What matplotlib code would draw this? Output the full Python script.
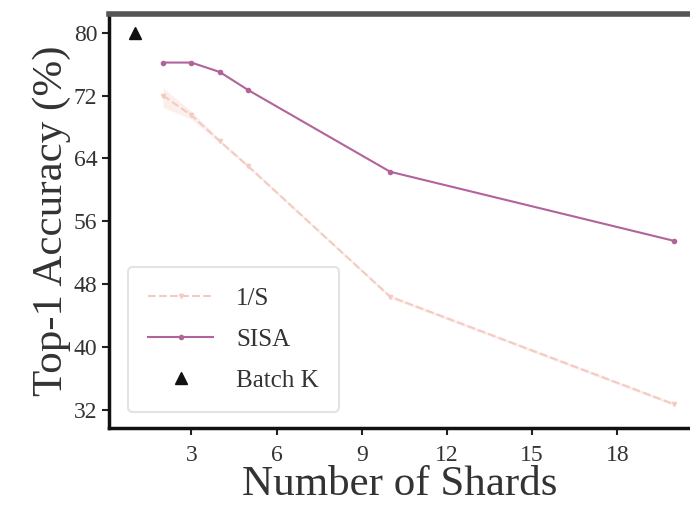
import matplotlib
matplotlib.use('Agg')
import matplotlib.pyplot as plt

# data
shards = [2, 3, 4, 5, 10, 20]
sisa = [76.2, 76.2, 75.0, 72.7, 62.3, 53.5]
one_over_s = [72.0, 69.5, 66.2, 63.0, 46.4, 32.7]
one_over_s_lo = [70.5, 69.0, 66.0, 62.8, 46.2, 32.5]
one_over_s_hi = [73.0, 70.0, 66.4, 63.2, 46.6, 32.9]
batch_x = [1]
batch_y = [80]

xticks = [3, 6, 9, 12, 15, 18]
yticks = [32, 40, 48, 56, 64, 72, 80]

plt.rcParams['font.family'] = ['Liberation Serif', 'DejaVu Serif']

fig = plt.figure(figsize=(6.9, 5.13), dpi=100)
ax = fig.add_axes([0.158, 0.166, 0.842, 0.807])

pink = '#f3cbc2'
purple = '#b0649a'

ax.fill_between(shards, one_over_s_lo, one_over_s_hi, color=pink, alpha=0.3, lw=0)
ax.plot(shards, one_over_s, color=pink, ls='--', lw=1.5, marker='v', ms=3, label='1/S')
ax.plot(shards, sisa, color=purple, lw=1.5, marker='o', ms=3, label='SISA')
ax.plot(batch_x, batch_y, ls='none', marker='^', color='#111111', ms=9, label='Batch K')

ax.set_xlim(0.1, 20.56)
ax.set_ylim(29.7, 82.4)
ax.set_xticks(xticks)
ax.set_yticks(yticks)
ax.tick_params(labelsize=17, length=5, width=1.5, colors='#222222', labelcolor='#333333')
ax.tick_params(axis='x', pad=7)

ax.spines['right'].set_visible(False)
ax.spines['left'].set_linewidth(2.5)
ax.spines['bottom'].set_linewidth(2.5)
ax.spines['top'].set_linewidth(4)
ax.spines['top'].set_color('#555555')
ax.spines['left'].set_color('#111111')
ax.spines['bottom'].set_color('#111111')

ax.set_xlabel('Number of Shards', fontsize=31, color='#333333', labelpad=0)
ax.set_ylabel('Top-1 Accuracy (%)', fontsize=31, color='#333333', labelpad=2)

leg = ax.legend(loc='lower left', fontsize=18, frameon=True, borderpad=0.8,
                handlelength=2.6, labelspacing=0.75, handletextpad=0.9,
                bbox_to_anchor=(0.012, 0.008))
leg.get_frame().set_edgecolor('#dddddd')
leg.get_frame().set_linewidth(1.5)
for t in leg.get_texts():
    t.set_color('#333333')

fig.savefig('out.png', dpi=100)
